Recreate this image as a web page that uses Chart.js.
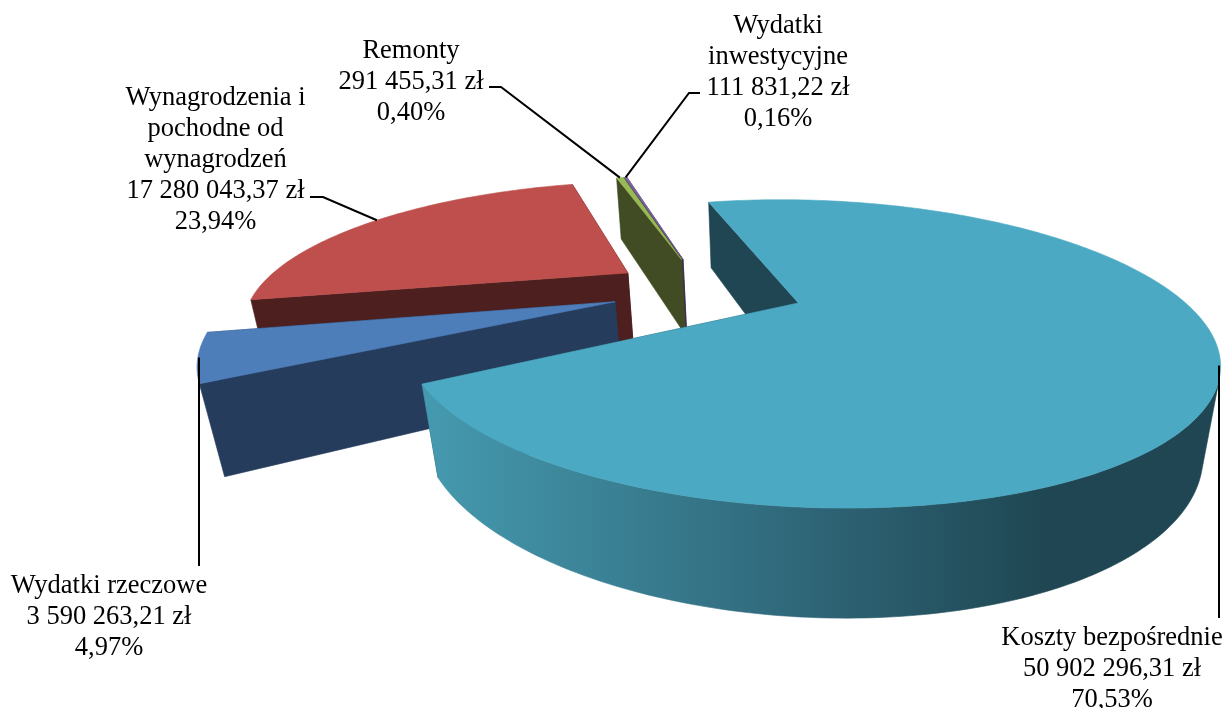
<!DOCTYPE html>
<html><head><meta charset="utf-8">
<style>html,body{margin:0;padding:0;background:#fff}canvas{display:block}</style>
<script src="https://cdn.jsdelivr.net/npm/chart.js@4"></script>
</head><body><canvas id="c" width="1226" height="708"></canvas>
<script>
const categories = ["Koszty bezpośrednie","Wydatki rzeczowe","Wynagrodzenia i pochodne od wynagrodzeń","Remonty","Wydatki inwestycyjne"];
const values = [50902296.31, 3590263.21, 17280043.37, 291455.31, 111831.22];
const amounts = ["50 902 296,31 zł","3 590 263,21 zł","17 280 043,37 zł","291 455,31 zł","111 831,22 zł"];
const percents = ["70,53%","4,97%","23,94%","0,40%","0,16%"];
const labelLines = [["Koszty bezpośrednie"],["Wydatki rzeczowe"],["Wynagrodzenia i","pochodne od","wynagrodzeń"],["Remonty"],["Wydatki","inwestycyjne"]];
const topColors = ["#4BA9C3","#4E7EBA","#BE4F4C","#97BA55","#7F63A1"];
const wallColors = ["#1F4652","#253C5C","#4D1F1F","#414C24","#3D2F52"];

// layout (style only)
const P = {cx:798, cy:303, a:384, b:137, t:10, k:.329, l:.035, c:85.5, m:.0375, e:.26, Cu:-.245, Cv:-.085};
const radius = [1,1.02,1.02,.995,.995];
const nudgeU = [0,0,-.003,-.009,-.009];
const labelPos = [{x:1112,y:645},{x:109,y:593},{x:215.5,y:105},{x:411,y:58},{x:778,y:33}];
const lineH = 30.9;
const leaders = [{ex:1219,ey:618},{ex:199,ey:566},{ex:310,ey:197,ix:323,iy:197},{ex:489,ey:87,ix:501,iy:87},{ex:700,ey:93,ix:689,iy:93}];

function project(u,v,z){
  const w = 1 - P.k*v - P.l*u + P.m*z;
  return [P.cx + P.a*u/w, P.cy + (P.b*v + P.t*u + P.c*z)/w];
}
function draw3D(chart){
  const ctx = chart.ctx, meta = chart.getDatasetMeta(0);
  const th = i => [meta.data[i].startAngle+Math.PI/2, meta.data[i].endAngle+Math.PI/2];
  const world = (i,t,r) => {
    const [a,b] = th(i), mid=(a+b)/2;
    return [P.Cu+nudgeU[i]+P.e*Math.sin(mid)+r*radius[i]*Math.sin(t), P.Cv-P.e*Math.cos(mid)-r*radius[i]*Math.cos(t)];
  };
  const pt = (i,t,r,z) => { const q=world(i,t,r); return project(q[0],q[1],z); };
  const poly = (pts,fill) => {
    ctx.beginPath(); pts.forEach((p,j)=> j?ctx.lineTo(p[0],p[1]):ctx.moveTo(p[0],p[1])); ctx.closePath();
    ctx.fillStyle=fill; ctx.strokeStyle=fill; ctx.lineWidth=.6; ctx.fill(); ctx.stroke();
  };
  const order=[4,3,2,1,0];
  for(const i of order){
    const [a,b]=th(i);
    // radial faces
    for(const t of [a,b]) poly([pt(i,t,0,0),pt(i,t,1,0),pt(i,t,1,1),pt(i,t,0,1)],wallColors[i]);
    // outer wall: only the segments facing the viewer, as one polygon
    let fill=wallColors[i];
    if(i===0){
      const g=ctx.createLinearGradient(430,0,1050,0);
      g.addColorStop(0,"#4599AE"); g.addColorStop(.5,"#336F82"); g.addColorStop(1,"#1F4652");
      fill=g;
    }
    const n=Math.max(2,Math.ceil((b-a)/(Math.PI/180)));
    const upper=[],lower=[];
    for(let j=0;j<n;j++){
      const t0=a+(b-a)*j/n,t1=a+(b-a)*(j+1)/n;
      const A=pt(i,t0,1,0),B=pt(i,t1,1,0),C=pt(i,t1,1,1);
      const area=(B[0]-A[0])*(C[1]-A[1])-(B[1]-A[1])*(C[0]-A[0]);
      if(area<0){ upper.push(A,B); lower.push(pt(i,t0,1,1),C); }
    }
    if(upper.length) poly(upper.concat(lower.reverse()),fill);
    // top
    const top=[pt(i,a,0,0)];
    for(let j=0;j<=n;j++) top.push(pt(i,a+(b-a)*j/n,1,0));
    poly(top,topColors[i]);
  }
  // leaders + labels
  ctx.strokeStyle="#000"; ctx.lineWidth=2; ctx.fillStyle="#000";
  for(let i=0;i<values.length;i++){
    const [a,b]=th(i), e=pt(i,(a+b)/2,1,0), L=leaders[i];
    ctx.beginPath();
    if(L.ix!==undefined){ctx.moveTo(L.ex,L.ey);ctx.lineTo(L.ix,L.iy);ctx.lineTo(e[0],e[1]);}
    else{ctx.moveTo(L.ex,L.ey);ctx.lineTo(L.ex,e[1]);}
    ctx.stroke();
  }
  ctx.font='26.5px "Liberation Serif"'; ctx.textAlign="center"; ctx.textBaseline="alphabetic"; ctx.fillStyle="#000";
  for(let i=0;i<values.length;i++){
    const lines=[...labelLines[i],amounts[i],percents[i]];
    lines.forEach((s,j)=>ctx.fillText(s,labelPos[i].x,labelPos[i].y+j*lineH));
  }
}
new Chart(document.getElementById('c'),{
  type:'pie',
  data:{labels:categories,datasets:[{data:values,backgroundColor:topColors,borderWidth:0}]},
  options:{responsive:false,animation:false,rotation:342,plugins:{legend:{display:false},tooltip:{enabled:false}}},
  plugins:[{id:'pie3d',beforeDatasetDraw(chart){draw3D(chart);return false;}}]
});
</script></body></html>
